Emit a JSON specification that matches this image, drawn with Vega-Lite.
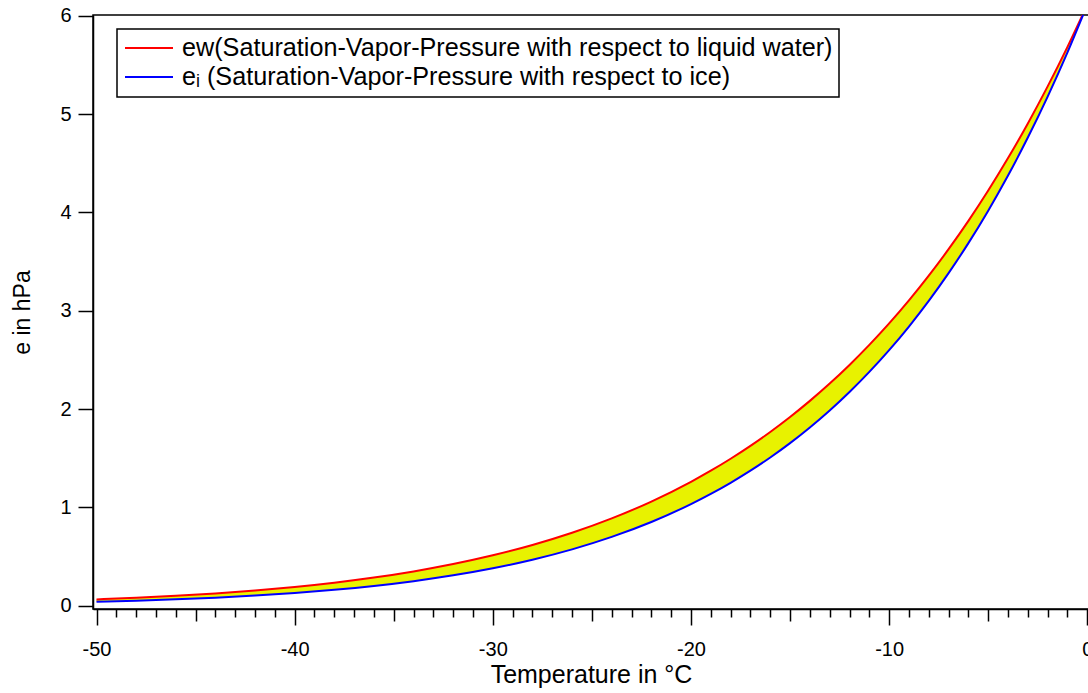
{
  "$schema": "https://vega.github.io/schema/vega-lite/v6.json",
  "width": 996,
  "height": 594,
  "autosize": {"type": "none"},
  "padding": {"left": 93, "top": 15, "right": 0, "bottom": 84},
  "background": "white",
  "config": {
    "font": "Liberation Sans",
    "view": {"stroke": "black", "strokeWidth": 1.5},
    "axis": {"domainColor": "black", "domainWidth": 1.5, "tickColor": "black", "tickWidth": 1.5, "labelColor": "black", "titleColor": "black", "grid": false, "labelFont": "Liberation Sans", "titleFont": "Liberation Sans", "titleFontWeight": "normal"}
  },
  "data": {
    "values": [
      {"T": -50, "ew": 0.0638, "ei": 0.0394},
      {"T": -48, "ew": 0.0801, "ei": 0.0503},
      {"T": -46, "ew": 0.1001, "ei": 0.0640},
      {"T": -44, "ew": 0.1245, "ei": 0.0811},
      {"T": -42, "ew": 0.1542, "ei": 0.1023},
      {"T": -40, "ew": 0.1902, "ei": 0.1285},
      {"T": -38, "ew": 0.2336, "ei": 0.1608},
      {"T": -36, "ew": 0.2858, "ei": 0.2005},
      {"T": -34, "ew": 0.3484, "ei": 0.2491},
      {"T": -32, "ew": 0.4230, "ei": 0.3083},
      {"T": -30, "ew": 0.5117, "ei": 0.3803},
      {"T": -28, "ew": 0.6168, "ei": 0.4674},
      {"T": -26, "ew": 0.7410, "ei": 0.5726},
      {"T": -24, "ew": 0.8872, "ei": 0.6992},
      {"T": -22, "ew": 1.0589, "ei": 0.8510},
      {"T": -20, "ew": 1.2597, "ei": 1.0326},
      {"T": -19, "ew": 1.3723, "ei": 1.1362},
      {"T": -18, "ew": 1.4939, "ei": 1.2492},
      {"T": -17, "ew": 1.6251, "ei": 1.3724},
      {"T": -16, "ew": 1.7665, "ei": 1.5067},
      {"T": -15, "ew": 1.9187, "ei": 1.6529},
      {"T": -14, "ew": 2.0826, "ei": 1.8120},
      {"T": -13, "ew": 2.2589, "ei": 1.9850},
      {"T": -12, "ew": 2.4483, "ei": 2.1730},
      {"T": -11, "ew": 2.6519, "ei": 2.3772},
      {"T": -10, "ew": 2.8703, "ei": 2.5987},
      {"T": -9, "ew": 3.1047, "ei": 2.8390},
      {"T": -8, "ew": 3.3560, "ei": 3.0995},
      {"T": -7, "ew": 3.6252, "ei": 3.3816},
      {"T": -6, "ew": 3.9134, "ei": 3.6870},
      {"T": -5, "ew": 4.2219, "ei": 4.0174},
      {"T": -4, "ew": 4.5518, "ei": 4.3745},
      {"T": -3, "ew": 4.9043, "ei": 4.7605},
      {"T": -2, "ew": 5.2810, "ei": 5.1772},
      {"T": -1, "ew": 5.6830, "ei": 5.6269},
      {"T": 0, "ew": 6.112, "ei": 6.112}
    ]
  },
  "resolve": {"axis": {"x": "independent"}},
  "layer": [
    {
      "mark": {"type": "area", "color": "#e8f200", "clip": true, "interpolate": "monotone"},
      "encoding": {
        "x": {
          "field": "T", "type": "quantitative",
          "scale": {"domain": [-50.177, 0.086], "nice": false, "zero": false},
          "axis": {
            "orient": "bottom",
            "title": "Temperature in °C",
            "titleFontSize": 25,
            "titlePadding": 3,
            "values": [-50, -40, -30, -20, -10, 0],
            "tickSize": 16,
            "labelFontSize": 20,
            "labelPadding": 14,
            "labelExpr": "'' + datum.value",
            "labelFlush": false,
            "labelOverlap": false
          }
        },
        "y": {
          "field": "ei", "type": "quantitative",
          "scale": {"domain": [-0.034, 6.007], "nice": false, "zero": false},
          "axis": {"title": "e in hPa", "titleFontSize": 23, "titlePadding": 25, "values": [0, 1, 2, 3, 4, 5, 6], "labelExpr": "'' + datum.value", "tickSize": 15, "labelFontSize": 20, "labelPadding": 7, "labelFlush": false}
        },
        "y2": {"field": "ew"}
      }
    },
    {
      "mark": {"type": "line", "strokeWidth": 2, "clip": true, "interpolate": "monotone"},
      "encoding": {
        "x": {
          "field": "T", "type": "quantitative",
          "axis": {
            "orient": "bottom",
            "title": null,
            "labels": false,
            "domain": false,
            "values": [-45, -35, -25, -15, -5],
            "tickSize": 12
          }
        },
        "y": {"field": "ew", "type": "quantitative", "axis": {"title": "e in hPa", "titleFontSize": 23, "titlePadding": 25, "values": [0, 1, 2, 3, 4, 5, 6], "labelExpr": "'' + datum.value", "tickSize": 15, "labelFontSize": 20, "labelPadding": 7, "labelFlush": false}},
        "color": {
          "datum": "ew", "type": "nominal",
          "scale": {"domain": ["ew", "ei"], "range": ["#ff0000", "#0000ff"]},
          "legend": {
            "title": null,
            "orient": "none",
            "legendX": 24,
            "legendY": 14,
            "padding": 6,
            "strokeColor": "black",
            "fillColor": "white",
            "symbolType": "M-2,0H2",
            "symbolSize": 576,
            "symbolStrokeWidth": 2,
            "symbolOffset": 13,
            "labelOffset": 20,
            "rowPadding": 2,
            "labelFontSize": 25.2,
            "labelFont": "Liberation Sans",
            "labelColor": "black",
            "labelLimit": 1000,
            "labelExpr": "datum.value === 'ew' ? 'eᴡ(Saturation-Vapor-Pressure with respect to liquid water)' : 'eᵢ (Saturation-Vapor-Pressure with respect to ice)'",
            "encode": {"legend": {"update": {"strokeWidth": {"value": 1.5}}}}
          }
        }
      }
    },
    {
      "mark": {"type": "line", "strokeWidth": 2, "clip": true, "interpolate": "monotone"},
      "encoding": {
        "x": {
          "field": "T", "type": "quantitative",
          "axis": {
            "orient": "bottom",
            "title": null,
            "labels": false,
            "domain": false,
            "values": [-49,-48,-47,-46,-44,-43,-42,-41,-39,-38,-37,-36,-34,-33,-32,-31,-29,-28,-27,-26,-24,-23,-22,-21,-19,-18,-17,-16,-14,-13,-12,-11,-9,-8,-7,-6,-4,-3,-2,-1],
            "tickSize": 8
          }
        },
        "y": {"field": "ei", "type": "quantitative", "axis": {"title": "e in hPa", "titleFontSize": 23, "titlePadding": 25, "values": [0, 1, 2, 3, 4, 5, 6], "labelExpr": "'' + datum.value", "tickSize": 15, "labelFontSize": 20, "labelPadding": 7, "labelFlush": false}},
        "color": {"datum": "ei", "type": "nominal"}
      }
    }
  ]
}
